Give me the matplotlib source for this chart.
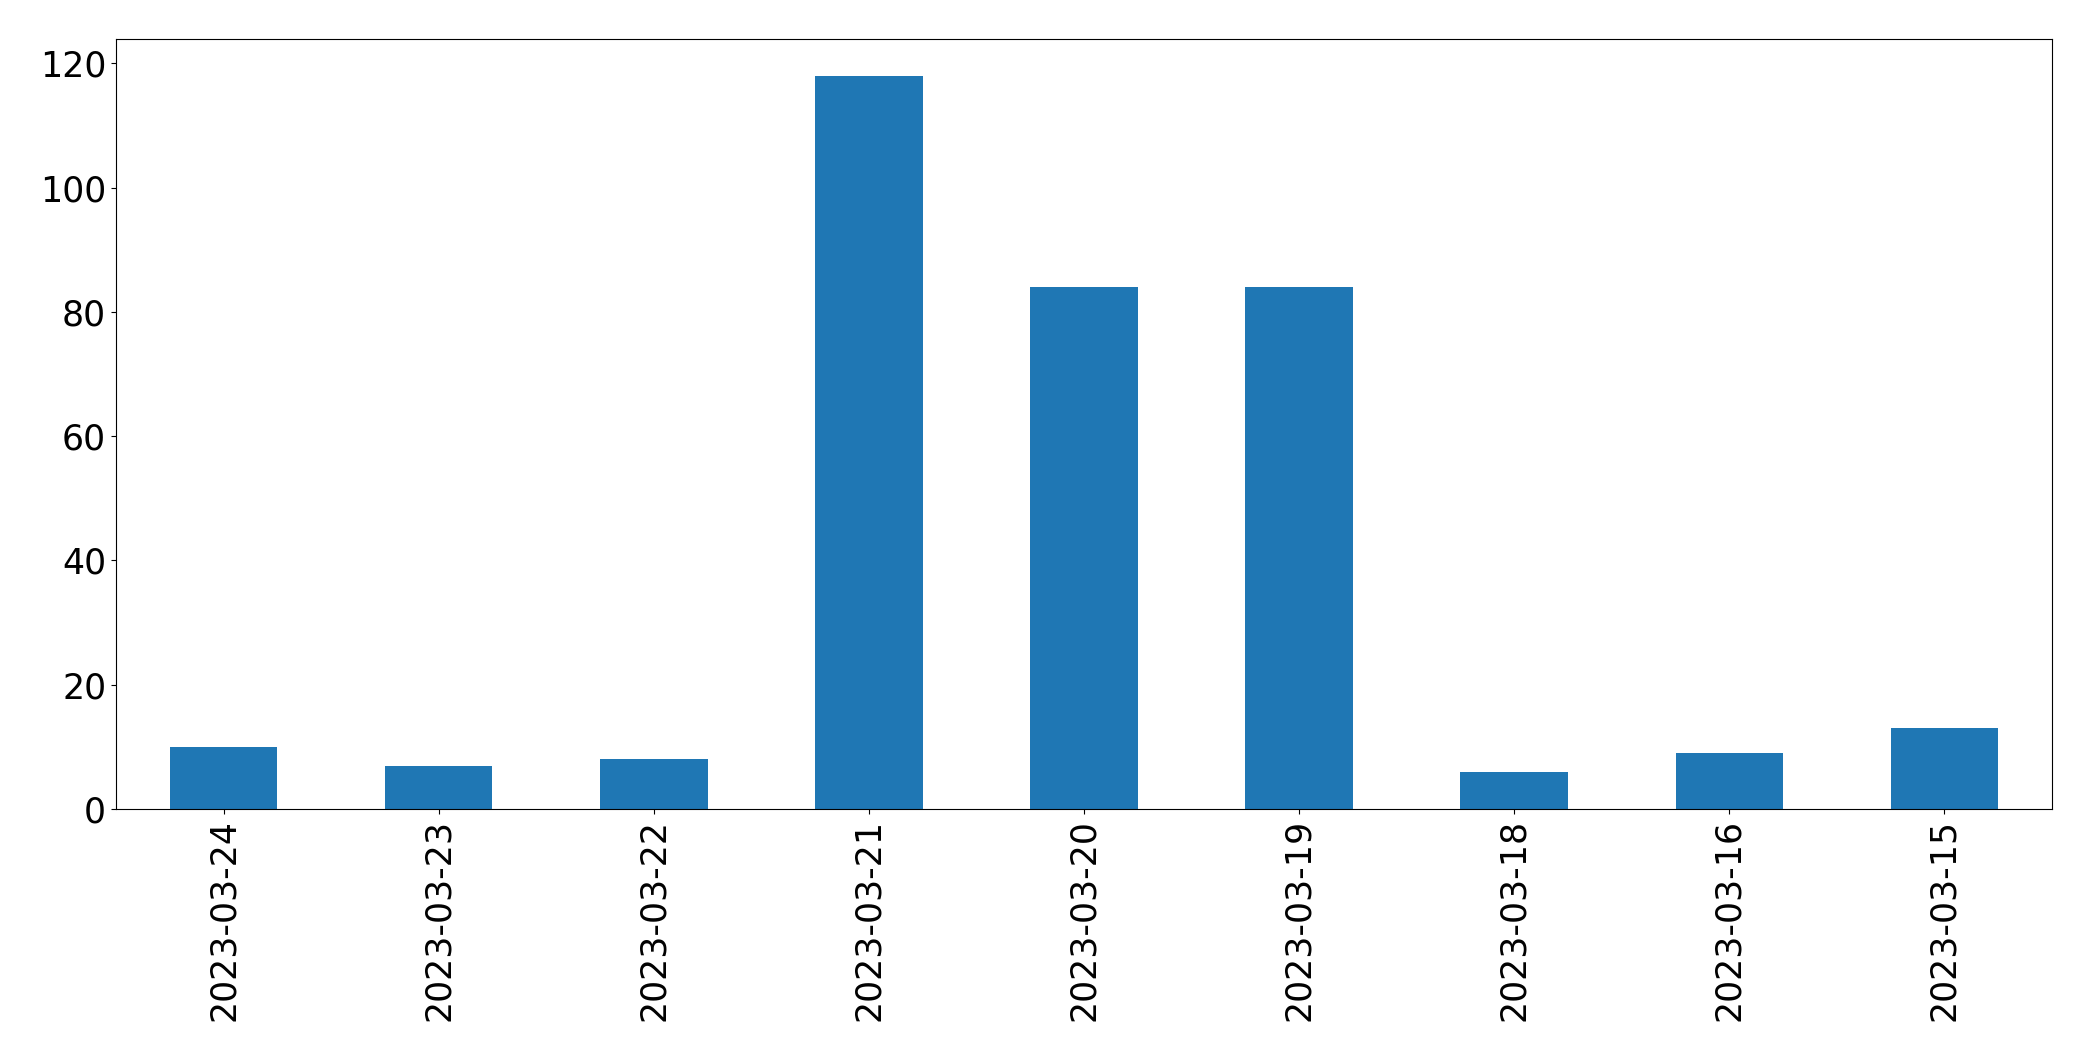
import matplotlib
matplotlib.use("Agg")
import matplotlib.pyplot as plt
import pandas as pd

dates = ["2023-03-24", "2023-03-23", "2023-03-22", "2023-03-21", "2023-03-20",
         "2023-03-19", "2023-03-18", "2023-03-16", "2023-03-15"]
counts = [10, 7, 8, 118, 84, 84, 6, 9, 13]

s = pd.Series(counts, index=dates)

fig = plt.figure(figsize=(20.93, 10.61), dpi=100)
ax = fig.add_axes([0.0554, 0.2375, 0.925, 0.7257])
s.plot(kind="bar", ax=ax, color="#1f77b4")
ax.tick_params(labelsize=25)
ax.set_xlabel("")

fig.savefig("out.png", dpi=100)
